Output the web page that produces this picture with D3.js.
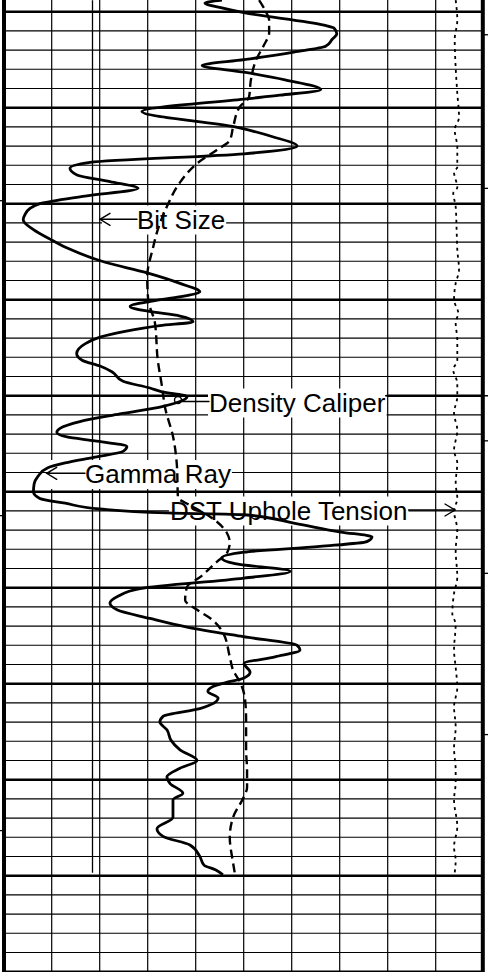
<!DOCTYPE html>
<html>
<head>
<meta charset="utf-8">
<script src="https://cdn.jsdelivr.net/npm/d3@7"></script>
<style>
  html, body { margin: 0; padding: 0; background: #fff; overflow: hidden; }
  svg { display: block; }
</style>
</head>
<body>
<svg id="log" width="488" height="972"></svg>
<script>
// ---- Log data (depth in ft) ----
const grDepth = [4998.8, 4999.1, 4999.6, 5000.1, 5001.4, 5001.7, 5002.3, 5002.9, 5003.6, 5004.2,
  5005.0, 5005.6, 5006.3, 5007.1, 5008.1, 5008.7, 5009.1, 5010.4, 5012.0, 5013.0,
  5014.0, 5014.8, 5015.7, 5016.3, 5017.0, 5017.7, 5018.4, 5019.2, 5020.0, 5020.5,
  5021.1, 5021.7, 5022.7, 5023.8, 5024.7, 5026.1, 5027.2, 5028.3, 5029.2, 5029.6,
  5030.1, 5030.7, 5031.2, 5031.7, 5032.3, 5032.7, 5033.3, 5033.9, 5034.6, 5035.6,
  5036.3, 5036.9, 5037.5, 5038.5, 5039.2, 5039.6, 5040.1, 5040.6, 5041.1, 5041.9,
  5042.7, 5043.4, 5043.8, 5044.3, 5044.7, 5045.3, 5045.8, 5046.4, 5047.0, 5047.5,
  5048.4, 5049.2, 5050.0, 5050.7, 5051.2, 5051.8, 5052.2, 5052.4, 5053.3, 5054.2,
  5054.7, 5055.2, 5055.7, 5056.3, 5056.9, 5057.5, 5058.3, 5059.0, 5060.1, 5060.9,
  5061.6, 5062.3, 5063.2, 5064.1, 5065.1, 5066.0, 5066.5, 5067.2, 5067.9, 5068.8,
  5069.4, 5069.9, 5070.3, 5070.8, 5071.5, 5072.6, 5073.4, 5074.0, 5074.8, 5075.9,
  5076.9, 5078.0, 5078.8, 5079.7, 5080.4, 5081.4, 5082.1, 5083.9, 5085.1, 5085.9,
  5086.8, 5088.0, 5088.9, 5089.4, 5089.9];
const grValue = [68.2, 62.9, 68.2, 75.1, 100.1, 103.2, 104.1, 102.6, 100.6, 90.7,
  75.1, 62.0, 75.1, 87.9, 99.1, 86.3, 75.1, 43.2, 72.3, 83.8,
  91.7, 75.1, 27.0, 20.7, 22.9, 33.2, 42.0, 25.4, 11.3, 8.2,
  6.7, 6.1, 9.3, 15.1, 20.4, 31.7, 44.8, 55.1, 61.3, 56.7,
  47.3, 39.5, 45.1, 55.1, 59.2, 48.8, 37.9, 30.1, 25.4, 22.8,
  24.5, 30.1, 33.8, 37.3, 45.7, 49.5, 57.3, 55.1, 49.8, 36.3,
  23.8, 17.6, 16.6, 19.8, 28.5, 38.5, 37.3, 28.5, 19.2, 13.8,
  10.7, 9.5, 9.3, 11.3, 19.2, 30.1, 51.0, 75.1, 91.0, 105.3,
  115.1, 113.5, 98.8, 75.1, 68.1, 72.3, 89.5, 75.1, 42.6, 35.7,
  33.2, 35.4, 45.7, 57.3, 74.8, 91.7, 92.6, 84.8, 75.1, 77.0,
  75.1, 69.2, 65.4, 63.8, 67.0, 61.3, 49.8, 48.8, 51.0, 52.3,
  55.1, 60.4, 55.1, 51.0, 52.0, 56.0, 52.9, 52.9, 47.9, 49.8,
  58.2, 61.3, 62.6, 66.3, 68.5];

const calDepth = [4998.8, 4999.8, 5000.9, 5002.2, 5003.5, 5005.0, 5007.1, 5008.9, 5009.9, 5012.0,
  5013.4, 5014.4, 5015.8, 5017.8, 5020.3, 5022.7, 5024.6, 5027.6, 5030.0, 5032.4,
  5036.3, 5039.1, 5041.2, 5044.3, 5047.4, 5050.6, 5051.4, 5052.6, 5054.3, 5055.3,
  5056.4, 5057.3, 5058.9, 5059.9, 5061.3, 5062.3, 5063.4, 5064.7, 5067.2, 5068.6,
  5069.8, 5071.7, 5073.8, 5076.9, 5079.0, 5080.8, 5081.9, 5083.9, 5086.0, 5088.7,
  5089.9];
const calValue = [11.32, 11.44, 11.53, 11.53, 11.42, 11.26, 11.15, 11.11, 10.92, 10.78,
  10.71, 10.44, 10.03, 9.67, 9.40, 9.21, 9.11, 8.99, 9.01, 9.15,
  9.21, 9.30, 9.36, 9.53, 9.61, 9.63, 9.88, 10.30, 10.65, 10.71,
  10.65, 10.44, 10.09, 9.82, 9.78, 10.03, 10.36, 10.57, 10.71, 10.78,
  10.92, 11.03, 11.05, 11.05, 11.07, 11.07, 10.99, 10.78, 10.71, 10.78,
  10.82];

const tenDepth = [4998.8, 5000.9, 5002.9, 5005.8, 5008.5, 5011.0, 5012.3, 5014.1, 5016.2, 5016.7,
  5018.3, 5018.9, 5020.3, 5023.1, 5024.8, 5026.9, 5028.3, 5030.0, 5031.4, 5032.4,
  5034.2, 5036.3, 5037.3, 5038.7, 5040.1, 5041.8, 5043.6, 5045.7, 5047.0, 5049.1,
  5050.7, 5052.0, 5054.0, 5056.1, 5058.9, 5060.6, 5062.7, 5063.8, 5066.5, 5068.3,
  5070.4, 5072.4, 5074.5, 5076.7, 5079.0, 5080.3, 5082.1, 5084.9, 5087.0, 5088.4,
  5089.7];
const tenValue = [47.08, 47.25, 46.98, 47.08, 47.25, 47.43, 46.98, 47.25, 47.25, 46.91,
  47.25, 46.83, 47.08, 47.19, 47.25, 47.43, 47.08, 46.91, 47.35, 47.08,
  47.25, 47.25, 46.83, 47.25, 47.25, 46.91, 47.25, 46.91, 47.25, 47.08,
  47.25, 46.91, 47.25, 47.08, 47.25, 46.91, 46.73, 47.08, 46.91, 47.08,
  47.25, 46.91, 47.08, 46.91, 47.08, 47.08, 46.91, 47.25, 46.91, 47.08,
  46.98];

const bitSize = 7.85;              // in
const bitDepthRange = [4998.8, 5089.7];
const metricTicks = [1530, 1540, 1550];          // m, left edge
const rightTicks = [5002.4, 5018.4, 5044.7, 5058.5, 5075.3]; // ft, right edge

// ---- Scales ----
const W = 488, H = 972;
const yDepth = d3.scaleLinear().domain([4998.78, 5100]).range([0, 971.7]);
const xGR = d3.scaleLinear().domain([0, 150]).range([3.7, 483.7]);
const xCal = d3.scaleLinear().domain([6, 16]).range([3.7, 483.7]);
const xTen = d3.scaleLinear().domain([0, 50]).range([3.7, 483.7]);
const xDiv = d3.scaleLinear().domain([0, 10]).range([3.7, 483.7]);
const FT_PER_M = 3.28084;

const svg = d3.select("#log");
svg.append("rect").attr("width", W).attr("height", H).attr("fill", "#fff");

// ---- Grid ----
const grid = svg.append("g");
const hDepths = d3.range(5000, 5101, 2);
grid.selectAll("line.h").data(hDepths).join("line")
  .attr("x1", 4).attr("x2", 483)
  .attr("y1", d => yDepth(d)).attr("y2", d => yDepth(d))
  .attr("stroke", "#000")
  .attr("stroke-width", d => d % 10 === 0 ? 2.6 : 1.1);

grid.selectAll("line.v").data(d3.range(1, 10)).join("line")
  .attr("x1", d => xDiv(d)).attr("x2", d => xDiv(d))
  .attr("y1", 0).attr("y2", H)
  .attr("stroke", "#000").attr("stroke-width", 1.2);

// Bit size reference line
svg.append("line")
  .attr("x1", xCal(bitSize)).attr("x2", xCal(bitSize))
  .attr("y1", yDepth(bitDepthRange[0])).attr("y2", yDepth(bitDepthRange[1]))
  .attr("stroke", "#000").attr("stroke-width", 1.3);

// ---- Labels on white boxes ----
const FONT = "'Liberation Sans', Arial, Helvetica, sans-serif";
const labelG = svg.append("g");
function addLabel(text, x, baseline, boxLeft) {
  const g = labelG.append("g");
  const rect = g.append("rect").attr("fill", "#fff");
  const t = g.append("text")
    .attr("x", x).attr("y", baseline)
    .attr("font-family", FONT).attr("font-size", 26)
    .attr("fill", "#000").text(text);
  const bb = t.node().getBBox();
  const left = boxLeft !== undefined ? boxLeft : bb.x - 1;
  rect.attr("x", left).attr("y", bb.y + 1)
    .attr("width", bb.x + bb.width + 1 - left).attr("height", bb.height - 1);
  return bb;
}
const bbBit = addLabel("Bit Size", 137, 228.5, 102);
const bbGR = addLabel("Gamma Ray", 85, 483, 50);
const bbCal = addLabel("Density Caliper", 209, 411.5);
const bbDst = addLabel("DST Uphole Tension", 170, 519.5);

// ---- Arrows and leaders ----
const ann = svg.append("g").attr("stroke", "#000").attr("stroke-width", 1.4)
  .attr("fill", "none").attr("stroke-linecap", "round");
function leftArrow(x0, x1, y) {
  ann.append("line").attr("x1", x0).attr("x2", x1).attr("y1", y).attr("y2", y);
  ann.append("path").attr("d", `M${x0 + 10},${y - 6}L${x0},${y}L${x0 + 10},${y + 6}`);
}
function rightArrow(x0, x1, y) {
  ann.append("line").attr("x1", x0).attr("x2", x1).attr("y1", y).attr("y2", y);
  ann.append("path").attr("d", `M${x1 - 10},${y - 6}L${x1},${y}L${x1 - 10},${y + 6}`);
}
leftArrow(xCal(bitSize) + 7.5, bbBit.x, 219.3);
leftArrow(46.7, bbGR.x, 473.3);
rightArrow(bbDst.x + bbDst.width + 1, 455, 510);
// Density caliper pointer: small ring with leader into the label
ann.append("circle").attr("cx", 178).attr("cy", 400).attr("r", 3.5);
ann.append("line").attr("x1", 181.5).attr("x2", bbCal.x).attr("y1", 401.5).attr("y2", 401.5);
ann.append("line").attr("x1", bbCal.x + bbCal.width).attr("x2", 488)
  .attr("y1", yDepth(5040)).attr("y2", yDepth(5040));

// ---- Curves ----
const curves = svg.append("g").attr("fill", "none");
const lineGR = d3.line().x(d => xGR(d[1])).y(d => yDepth(d[0])).curve(d3.curveMonotoneY);
const lineCal = d3.line().x(d => xCal(d[1])).y(d => yDepth(d[0])).curve(d3.curveMonotoneY);
const lineTen = d3.line().x(d => xTen(d[1])).y(d => yDepth(d[0])).curve(d3.curveMonotoneY);

curves.append("path")
  .attr("d", lineCal(d3.zip(calDepth, calValue)))
  .attr("stroke", "#000").attr("stroke-width", 2.4)
  .attr("stroke-dasharray", "9,5");

curves.append("path")
  .attr("d", lineTen(d3.zip(tenDepth, tenValue)))
  .attr("stroke", "#000").attr("stroke-width", 1.8)
  .attr("stroke-dasharray", "3,4");

curves.append("path")
  .attr("d", lineGR(d3.zip(grDepth, grValue)))
  .attr("stroke", "#000").attr("stroke-width", 2.8)
  .attr("stroke-linejoin", "round");

// ---- Track frame and edge ticks ----
const frame = svg.append("g").attr("fill", "#000");
frame.append("rect").attr("x", 2).attr("y", 0).attr("width", 4).attr("height", H);
frame.append("rect").attr("x", 480.8).attr("y", 0).attr("width", 4).attr("height", H);
frame.selectAll("line.lt").data(metricTicks).join("line")
  .attr("x1", 0).attr("x2", 3)
  .attr("y1", d => yDepth(d * FT_PER_M)).attr("y2", d => yDepth(d * FT_PER_M))
  .attr("stroke", "#000").attr("stroke-width", 1.3);
frame.selectAll("line.rt").data(rightTicks).join("line")
  .attr("x1", 484).attr("x2", 488)
  .attr("y1", d => yDepth(d)).attr("y2", d => yDepth(d))
  .attr("stroke", "#000").attr("stroke-width", 1.3);
</script>
</body>
</html>
